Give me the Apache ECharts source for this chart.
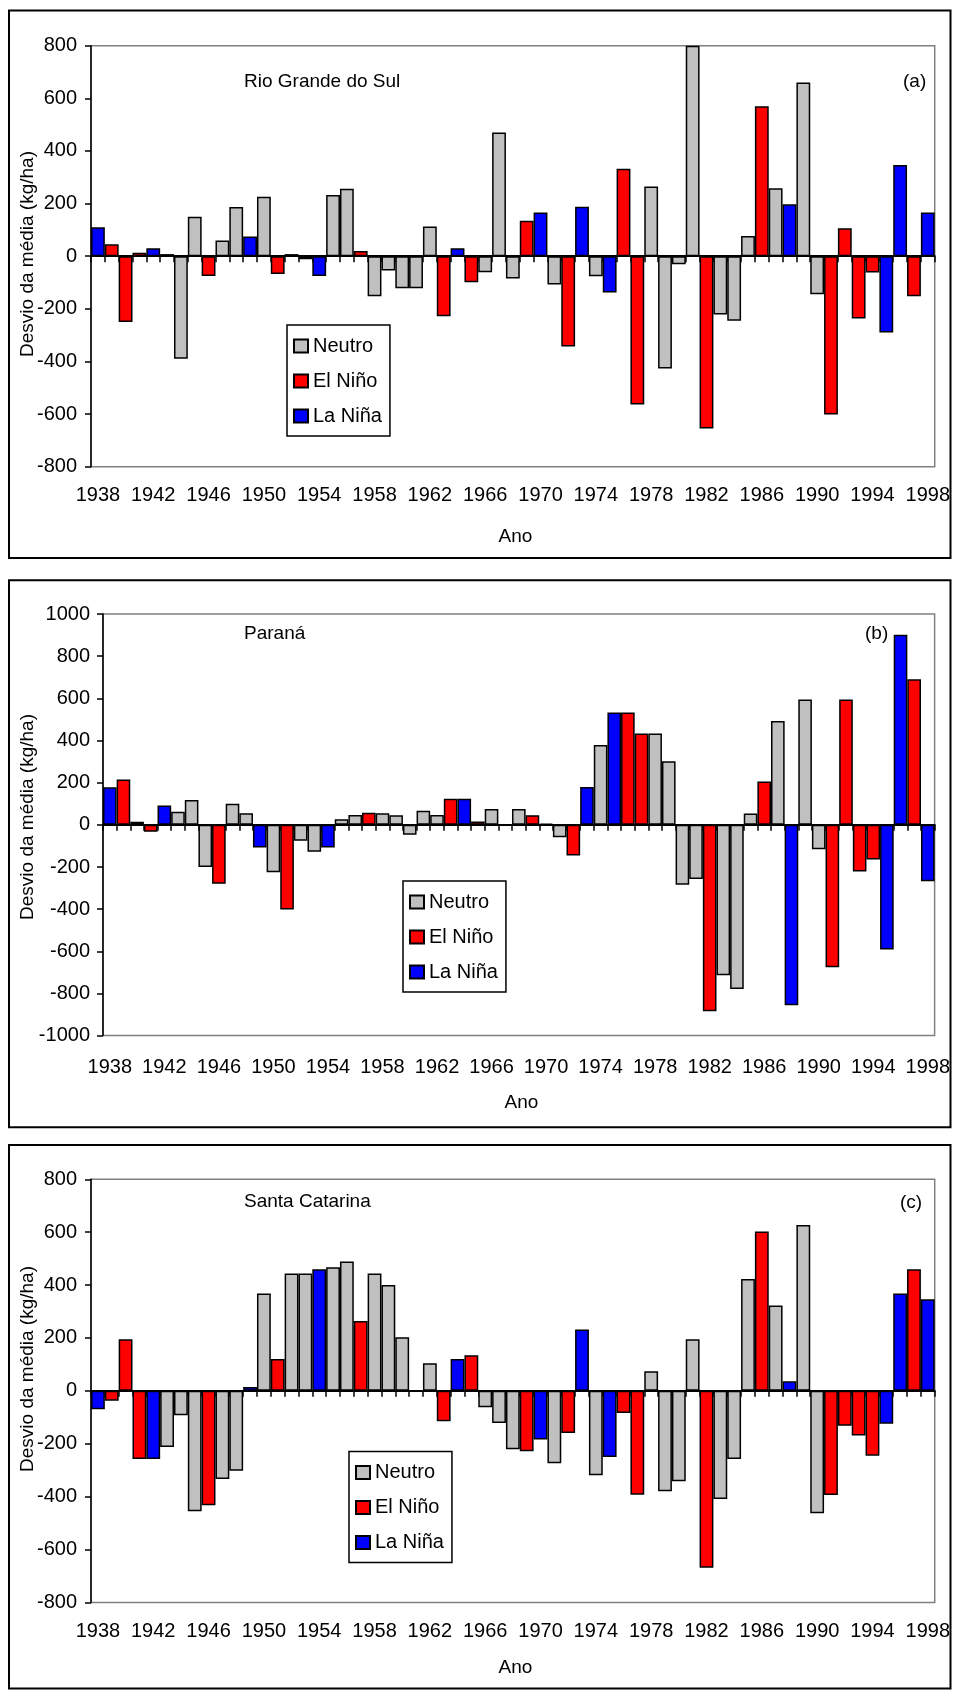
<!DOCTYPE html>
<html>
<head>
<meta charset="utf-8">
<script src="https://cdn.jsdelivr.net/npm/echarts@6/dist/echarts.min.js"></script>
<style>
  html, body { margin: 0; padding: 0; background: #fff; }
  #chart { width: 953px; height: 1690px; }
</style>
</head>
<body>
<div id="chart"></div>
<script>
// Anos da série (categorias do eixo x)
const anos = [
  '1938','1939','1940','1941','1942','1943','1944','1945','1946','1947',
  '1948','1949','1950','1951','1952','1953','1954','1955','1956','1957',
  '1958','1959','1960','1961','1962','1963','1964','1965','1966','1967',
  '1968','1969','1970','1971','1972','1973','1974','1975','1976','1977',
  '1978','1979','1980','1981','1982','1983','1984','1985','1986','1987',
  '1988','1989','1990','1991','1992','1993','1994','1995','1996','1997',
  '1998'
];

// Fase do ENOS em cada ano: N = Neutro, E = El Niño, L = La Niña
const faseEnos = [
  'L','E','E','E','L','N','N','N','E','N',
  'N','L','N','E','N','N','L','N','N','E',
  'N','N','N','N','N','E','L','E','N','N',
  'N','E','L','N','E','L','N','L','E','E',
  'N','N','N','N','E','N','N','N','E','N',
  'L','N','N','E','E','E','E','L','L','E',
  'L'
];

// Desvio da média do rendimento (kg/ha)
const rioGrandeDoSul = [
  110, 45, -250, 13, 30, 8, -390, 150, -75, 60,
  187, 75, 226, -68, 8, -12, -75, 233, 256, 20,
  -152, -54, -122, -122, 113, -228, 30, -99, -61, 470,
  -85, 135, 166, -108, -343, 188, -76, -138, 332, -564,
  265, -427, -31, 800, -655, -222, -245, 77, 570, 258,
  197, 660, -145, -602, 106, -237, -62, -290, 347, -152,
  166
];

const parana = [
  178, 215, 15, -33, 92, 62, 118, -200, -280, 100,
  55, -108, -225, -402, -75, -128, -108, 27, 47, 57,
  55, 45, -47, 67, 47, 124, 124, 16, 75, 0,
  75, 46, 5, -59, -145, 180, 379, 533, 533, 433,
  433, 302, -284, -257, -884, -714, -779, 54, 206, 493,
  -856, 595, -116, -676, 595, -221, -165, -592, 902, 691,
  -268
];

const santaCatarina = [
  -70, -37, 195, -258, -258, -212, -92, -455, -433, -333,
  -302, 15, 368, 120, 444, 444, 460, 467, 489, 264,
  444, 400, 203, 0, 104, -115, 120, 135, -62, -122,
  -221, -228, -184, -274, -159, 232, -319, -250, -84, -393,
  74, -380, -342, 195, -669, -409, -258, 423, 603, 323,
  36, 627, -463, -394, -132, -169, -245, -124, 368, 460,
  346
];

const nomesFase = { N: 'Neutro', E: 'El Niño', L: 'La Niña' };
const coresFase = { N: '#C0C0C0', E: '#FF0000', L: '#0000FF' };
const ordemFases = ['N', 'E', 'L'];

const FONTE = '"Liberation Sans", Arial, Helvetica, sans-serif';

// Um painel por estado
const paineis = [
  {
    estado: 'Rio Grande do Sul', letra: '(a)', valores: rioGrandeDoSul,
    min: -800, max: 800,
    grid: { left: 91, top: 45.7, width: 849, height: 421 },
    legenda: { left: 287, top: 325 },
    titulo: { x: 244, y: 82 }, letraPos: { x: 903, y: 82 },
    caixa: { y: 10.5, h: 547.5 },
    tituloY: { x: 28, y: 254 }, tituloX: { y: 537 },
    rotuloXMargin: 19, rotuloYMargin: 14
  },
  {
    estado: 'Paraná', letra: '(b)', valores: parana,
    min: -1000, max: 1000,
    grid: { left: 103, top: 614.1, width: 837, height: 421.5 },
    legenda: { left: 403, top: 881 },
    titulo: { x: 244, y: 633.7 }, letraPos: { x: 865, y: 633.7 },
    caixa: { y: 580.3, h: 547 },
    tituloY: { x: 28, y: 817 }, tituloX: { y: 1103 },
    rotuloXMargin: 22, rotuloYMargin: 13
  },
  {
    estado: 'Santa Catarina', letra: '(c)', valores: santaCatarina,
    min: -800, max: 800,
    grid: { left: 91, top: 1179.3, width: 849, height: 423.1 },
    legenda: { left: 349, top: 1451.5 },
    titulo: { x: 244, y: 1202 }, letraPos: { x: 900, y: 1203 },
    caixa: { y: 1145, h: 543.5 },
    tituloY: { x: 28, y: 1369 }, tituloX: { y: 1668 },
    rotuloXMargin: 19, rotuloYMargin: 14
  }
];

const grids = [], xAxes = [], yAxes = [], series = [], legends = [], graphics = [];

paineis.forEach((p, k) => {
  grids.push(Object.assign({
    show: true, borderColor: '#808080', borderWidth: 1.5,
    backgroundColor: 'transparent', containLabel: false
  }, p.grid));

  // eixo inferior: só os rótulos dos anos
  xAxes.push({
    type: 'category', gridIndex: k, data: anos, position: 'bottom',
    axisLine: { show: false, onZero: false },
    axisTick: { show: false },
    splitLine: { show: false },
    axisLabel: { interval: 3, margin: p.rotuloXMargin, fontSize: 20, color: '#000', fontFamily: FONTE }
  });
  // linha do zero com marcas entre os anos
  xAxes.push({
    type: 'category', gridIndex: k, data: anos, position: 'top',
    axisLine: { show: true, onZero: true, lineStyle: { color: '#000', width: 2 } },
    axisTick: { show: true, inside: true, interval: 0, length: 6, lineStyle: { color: '#000', width: 1.5 } },
    axisLabel: { show: false },
    splitLine: { show: false }
  });

  yAxes.push({
    type: 'value', gridIndex: k, min: p.min, max: p.max, interval: 200,
    axisLine: { show: true, onZero: false, lineStyle: { color: '#000', width: 1.5 } },
    axisTick: { show: true, length: 6, lineStyle: { color: '#000', width: 1.5 } },
    splitLine: { show: false },
    axisLabel: {
      margin: p.rotuloYMargin, fontSize: 20, color: '#000', fontFamily: FONTE,
      formatter: v => String(v)
    }
  });

  ordemFases.forEach(f => {
    series.push({
      type: 'bar', name: nomesFase[f],
      xAxisIndex: 2 * k, yAxisIndex: k,
      data: p.valores.map((v, i) => (faseEnos[i] === f ? v : '-')),
      barGap: '-100%', barCategoryGap: '0%',
      itemStyle: { color: coresFase[f], borderColor: '#000', borderWidth: 1.5 },
      emphasis: { disabled: true },
      animation: false
    });
  });

  legends.push({
    left: p.legenda.left, top: p.legenda.top, orient: 'vertical',
    data: ordemFases.map(f => nomesFase[f]),
    itemWidth: 14, itemHeight: 13, itemGap: 15,
    padding: [11, 8, 10, 6],
    borderColor: '#000', borderWidth: 1.5, backgroundColor: '#fff',
    selectedMode: false, icon: 'rect',
    textStyle: { fontSize: 20, color: '#000', fontFamily: FONTE }
  });

  // moldura do painel
  graphics.push({
    type: 'rect', shape: { x: 9, y: p.caixa.y, width: 941.5, height: p.caixa.h },
    style: { fill: 'none', stroke: '#000', lineWidth: 2 }, z: 10, silent: true
  });
  graphics.push({
    type: 'text', x: p.titulo.x, y: p.titulo.y,
    style: { text: p.estado, fontSize: 19, fill: '#000', fontFamily: FONTE, textVerticalAlign: 'middle' },
    z: 10, silent: true
  });
  graphics.push({
    type: 'text', x: p.letraPos.x, y: p.letraPos.y,
    style: { text: p.letra, fontSize: 19, fill: '#000', fontFamily: FONTE, textVerticalAlign: 'middle' },
    z: 10, silent: true
  });
  // títulos dos eixos
  graphics.push({
    type: 'text', x: p.tituloY.x, y: p.tituloY.y, rotation: Math.PI / 2,
    style: {
      text: 'Desvio da média (kg/ha)', fontSize: 19, fill: '#000', fontFamily: FONTE,
      textAlign: 'center', textVerticalAlign: 'middle'
    },
    z: 10, silent: true
  });
  graphics.push({
    type: 'text', x: p.grid.left + p.grid.width / 2, y: p.tituloX.y,
    style: {
      text: 'Ano', fontSize: 19, fill: '#000', fontFamily: FONTE,
      textAlign: 'center', textVerticalAlign: 'middle'
    },
    z: 10, silent: true
  });
});

const chart = echarts.init(document.getElementById('chart'), null, { renderer: 'canvas' });
chart.setOption({
  animation: false,
  backgroundColor: '#fff',
  grid: grids,
  xAxis: xAxes,
  yAxis: yAxes,
  legend: legends,
  series: series,
  graphic: graphics
});
</script>
</body>
</html>
